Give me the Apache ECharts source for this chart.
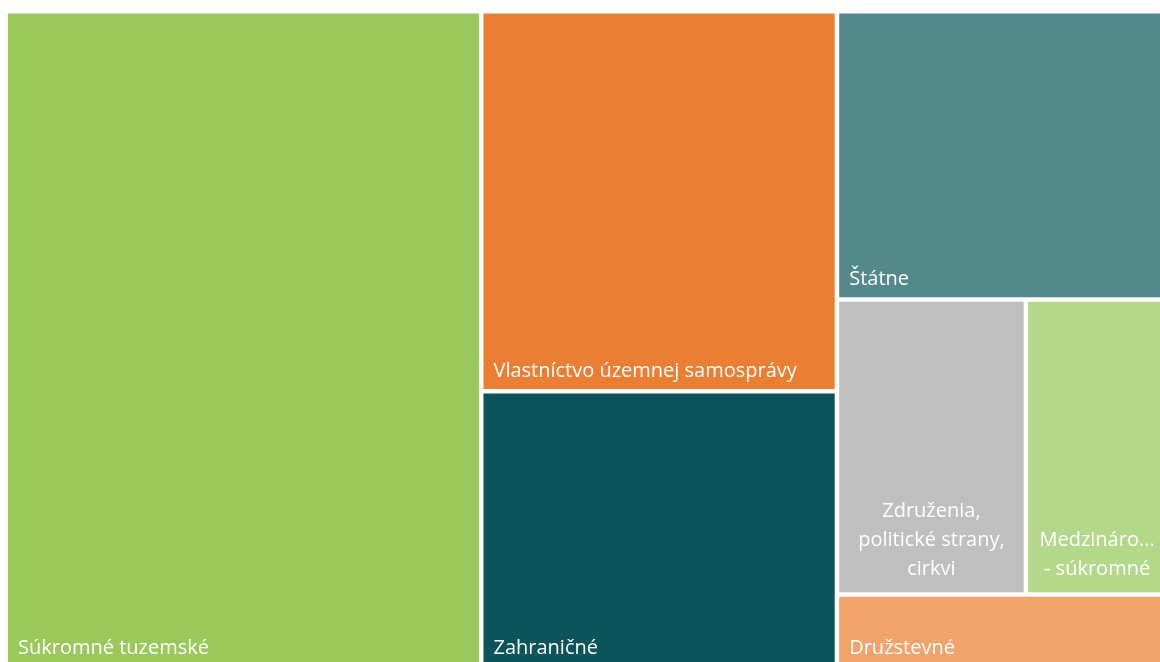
<!DOCTYPE html>
<html>
<head>
<meta charset="utf-8">
<script src="https://cdn.jsdelivr.net/npm/echarts@6/dist/echarts.min.js"></script>
<style>
  html, body { margin: 0; padding: 0; background: #ffffff; }
  #chart { width: 1160px; height: 662px; }
</style>
</head>
<body>
<div id="chart"></div>
<script>
// Ownership categories and their shares (%)
const categories = [
  'Súkromné tuzemské',
  'Vlastníctvo územnej samosprávy',
  'Zahraničné',
  'Štátne',
  'Združenia, politické strany, cirkvi',
  'Medzinárodné - súkromné',
  'Družstevné'
];
const shares = [40.9, 17.7, 12.9, 12.5, 7.3, 5.5, 3.2];
const colors = ['#9AC85B', '#EA7E32', '#0A545A', '#53898A', '#BFBFBF', '#B4D88A', '#F0A46C'];

// Narrow tiles get a wrapped, centred label
const wrappedLabels = {
  'Združenia, politické strany, cirkvi': 'Združenia,\npolitické strany,\ncirkvi',
  'Medzinárodné - súkromné': 'Medzináro...\n- súkromné'
};

const data = categories.map((name, i) => {
  const item = {
    name: name,
    value: shares[i],
    itemStyle: { color: colors[i] }
  };
  if (wrappedLabels[name]) {
    item.label = {
      formatter: wrappedLabels[name],
      position: 'insideBottom',
      align: 'center',
      lineHeight: 29
    };
  }
  return item;
});

const chart = echarts.init(document.getElementById('chart'), null, { renderer: 'canvas' });
chart.setOption({
  animation: false,
  series: [{
    type: 'treemap',
    left: 8,
    top: 13.5,
    width: 1158,
    height: 652.5,
    squareRatio: 1.3,
    roam: false,
    nodeClick: false,
    breadcrumb: { show: false },
    label: {
      show: true,
      position: 'insideBottomLeft',
      distance: 5,
      offset: [0, 2],
      color: '#ffffff',
      fontFamily: 'Open Sans',
      fontSize: 20,
      formatter: '{b}'
    },
    itemStyle: { borderWidth: 0, gapWidth: 4.5 },
    levels: [
      { itemStyle: { borderWidth: 0, gapWidth: 4.5 } },
      { itemStyle: { borderWidth: 0 } }
    ],
    emphasis: { disabled: true },
    data: data
  }]
});
</script>
</body>
</html>
